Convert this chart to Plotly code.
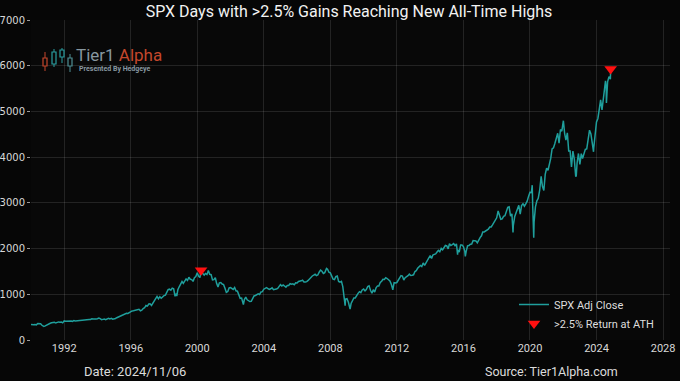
import pandas as pd
import plotly.graph_objects as go

# ---------------- data ----------------
closes_1990s = [
    329.1, 331.9, 339.9, 330.8, 361.2, 358.0, 356.2, 322.6, 306.1, 304.0, 322.2, 330.2,
    343.9, 367.1, 375.2, 375.3, 389.8, 371.2, 387.8, 395.4, 387.9, 392.5, 375.2, 417.1,
    408.8, 412.7, 403.7, 414.9, 415.4, 408.1, 424.2, 414.0, 417.8, 418.7, 431.4, 435.7,
    438.8, 443.4, 451.7, 440.2, 450.2, 450.5, 448.1, 463.6, 458.9, 467.8, 461.8, 466.5,
    481.6, 467.1, 445.8, 451.0, 456.5, 444.3, 458.3, 475.5, 462.7, 472.4, 454.0, 459.3,
    470.4, 487.4, 500.7, 514.7, 533.4, 544.8, 562.1, 561.9, 584.4, 581.5, 605.4, 615.9,
    636.0, 640.4, 645.5, 654.2, 669.1, 670.6, 639.9, 652.0, 687.3, 705.3, 757.0, 740.7,
    786.2, 790.8, 757.1, 801.3, 848.3, 885.1, 954.3, 899.5, 947.3, 914.6, 955.4, 970.4,
    980.3, 1049.3, 1101.8, 1111.8, 1090.8, 1133.8, 1120.7, 957.3, 1017.0, 1098.7, 1163.6, 1229.2,
    1279.6, 1238.3, 1286.4, 1335.2, 1301.8, 1372.7, 1328.7, 1320.4, 1282.7, 1362.9, 1388.9, 1469.3,
]
closes_2000s = [
    1394.5, 1366.4, 1498.6, 1452.4, 1420.6, 1454.6, 1430.8, 1517.7, 1436.5, 1429.4, 1315.2, 1320.3,
    1366.0, 1239.9, 1160.3, 1249.5, 1255.8, 1224.4, 1211.2, 1133.6, 1040.9, 1059.8, 1139.5, 1148.1,
    1130.2, 1106.7, 1147.4, 1076.9, 1067.1, 989.8, 911.6, 916.1, 815.3, 885.8, 936.3, 879.8,
    855.7, 841.2, 848.2, 916.9, 963.6, 974.5, 990.3, 1008.0, 996.0, 1050.7, 1058.2, 1111.9,
    1131.1, 1144.9, 1126.2, 1107.3, 1120.7, 1140.8, 1101.7, 1104.2, 1114.6, 1130.2, 1173.8, 1211.9,
    1181.3, 1203.6, 1180.6, 1156.9, 1191.5, 1191.3, 1234.2, 1220.3, 1228.8, 1207.0, 1249.5, 1248.3,
    1280.1, 1280.7, 1294.9, 1310.6, 1270.1, 1270.2, 1276.7, 1303.8, 1335.9, 1377.9, 1400.6, 1418.3,
    1438.2, 1406.8, 1420.9, 1482.4, 1530.6, 1503.4, 1455.3, 1474.0, 1526.8, 1549.4, 1481.1, 1468.4,
    1378.6, 1330.6, 1322.7, 1385.6, 1400.4, 1280.0, 1267.4, 1282.8, 1166.4, 968.8, 896.2, 903.3,
    825.9, 735.1, 797.9, 872.8, 919.1, 919.3, 987.5, 1020.6, 1057.1, 1036.2, 1095.6, 1115.1,
]
closes_2010s = [
    1073.9, 1104.5, 1169.4, 1186.7, 1089.4, 1030.7, 1101.6, 1049.3, 1141.2, 1183.3, 1180.6, 1257.6,
    1286.1, 1327.2, 1325.8, 1363.6, 1345.2, 1320.6, 1292.3, 1218.9, 1131.4, 1253.3, 1247.0, 1257.6,
    1312.4, 1365.7, 1408.5, 1397.9, 1310.3, 1362.2, 1379.3, 1406.6, 1440.7, 1412.2, 1416.2, 1426.2,
    1498.1, 1514.7, 1569.2, 1597.6, 1630.7, 1606.3, 1685.7, 1633.0, 1681.6, 1756.5, 1805.8, 1848.4,
    1782.6, 1859.5, 1872.3, 1883.9, 1923.6, 1960.2, 1930.7, 2003.4, 1972.3, 2018.1, 2067.6, 2058.9,
    1995.0, 2104.5, 2067.9, 2085.5, 2107.4, 2063.1, 2103.8, 1972.2, 1920.0, 2079.4, 2080.4, 2043.9,
    1940.2, 1932.2, 2059.7, 2065.3, 2096.9, 2098.9, 2173.6, 2171.0, 2168.3, 2126.2, 2199.0, 2238.8,
    2278.9, 2363.6, 2362.7, 2384.2, 2411.8, 2423.4, 2470.3, 2471.7, 2519.4, 2575.3, 2647.6, 2673.6,
    2823.8, 2713.8, 2640.9, 2648.1, 2705.3, 2718.4, 2816.3, 2901.5, 2914.0, 2711.7, 2760.2, 2506.9,
    2704.1, 2784.5, 2834.4, 2945.8, 2752.1, 2941.8, 2980.4, 2926.5, 2976.7, 3037.6, 3141.0, 3230.8,
]
closes_2020s = [
    3225.5, 2954.2, 2584.6, 2912.4, 3044.3, 3100.3, 3271.1, 3500.3, 3363.0, 3270.0, 3621.6, 3756.1,
    3714.2, 3811.2, 3972.9, 4181.2, 4204.1, 4297.5, 4395.3, 4522.7, 4307.5, 4605.4, 4567.0, 4766.2,
    4515.6, 4373.9, 4530.4, 4131.9, 4132.2, 3785.4, 4130.3, 3955.0, 3585.6, 3872.0, 4080.1, 3839.5,
    4076.6, 3970.2, 4109.3, 4169.5, 4179.8, 4450.4, 4589.0, 4507.7, 4288.1, 4193.8, 4567.8, 4769.8,
    4845.7, 5096.3, 5254.4, 5035.7, 5277.5, 5460.5, 5522.3, 5648.4, 5762.5, 5705.5,
]
last_date = "2024-11-06"
last_close = 5929.0

# intramonth highs / lows visible in the picture
extreme_dates = ["1990-10-11", "1998-10-08", "2000-03-24", "2002-10-09", "2007-10-09",
                 "2008-11-20", "2009-03-09", "2010-07-02", "2011-10-03", "2015-08-25",
                 "2016-02-11", "2018-12-24", "2020-02-19", "2020-03-23", "2020-09-02",
                 "2022-01-03", "2022-10-12", "2023-10-27", "2024-07-16", "2024-08-05"]
extreme_values = [295.5, 959.4, 1527.5, 776.8, 1565.2,
                  752.4, 676.5, 1022.6, 1099.2, 1867.6,
                  1829.1, 2351.1, 3386.2, 2237.4, 3580.8,
                  4796.6, 3577.0, 4117.4, 5667.2, 5186.3]

ath_dates = ["2000-03-24", "2024-11-06"]
ath_values = [1527.5, 5929.0]

x_ticks = ["1992", "1996", "2000", "2004", "2008", "2012", "2016", "2020", "2024", "2028"]
y_ticks = [0, 1000, 2000, 3000, 4000, 5000, 6000, 7000]

# ---------------- build series ----------------
monthly = closes_1990s + closes_2000s + closes_2010s + closes_2020s
mdates = pd.date_range("1990-01-31", periods=len(monthly), freq="ME")
s = pd.Series(monthly, index=mdates)
s = pd.concat([s, pd.Series([last_close], index=pd.to_datetime([last_date])),
               pd.Series(extreme_values, index=pd.to_datetime(extreme_dates))])
s = s[~s.index.duplicated()].sort_index()
start = pd.Series([339.0], index=pd.to_datetime(["1990-01-02"]))
s = pd.concat([start, s]).sort_index()

# ---------------- layout helpers ----------------
W, H = 680, 381
ML, MR, MT, MB = 31, 10, 20, 41
PW, PH = W - ML - MR, H - MT - MB


def px(x):
    return (x - ML) / PW


def py(y):
    return (H - MB - y) / PH


COND = "Roboto, sans-serif"
TEAL = "#1f9f9c"

fig = go.Figure()
fig.add_trace(go.Scatter(x=s.index, y=s.values, mode="lines", name="SPX Adj Close",
                         line=dict(color=TEAL, width=1.5)))
fig.add_trace(go.Scatter(x=pd.to_datetime(ath_dates), y=ath_values, mode="markers",
                         name=">2.5% Return at ATH",
                         marker=dict(symbol="triangle-down", color="#ff1010", size=11,
                                     line=dict(width=0))))

fig.update_layout(
    width=W, height=H,
    margin=dict(l=ML, r=MR, t=MT, b=MB, autoexpand=False),
    paper_bgcolor="#060606", plot_bgcolor="#080808",
    title=dict(text="SPX Days with >2.5% Gains Reaching New All-Time Highs",
               x=349 / W, xanchor="center", y=1 - 11 / H, yanchor="middle",
               font=dict(family=COND, size=16, color="#f2f2f2")),
    showlegend=True,
    legend=dict(x=px(514), y=py(338), xanchor="left", yanchor="bottom",
                bgcolor="rgba(0,0,0,0)", font=dict(family=COND, size=11, color="#dddddd"),
                tracegroupgap=2, itemwidth=30),
    xaxis=dict(type="date", range=["1990-01-02", "2028-06-01"], automargin=False,
               tickvals=pd.to_datetime([t + "-01-01" for t in x_ticks]), ticktext=x_ticks,
               showgrid=True, gridcolor="rgba(255,255,255,0.11)", gridwidth=1,
               zeroline=False, showline=False, ticks="",
               tickfont=dict(family=COND, size=11, color="#d8d8d8")),
    yaxis=dict(range=[0, 7000], tickvals=y_ticks, automargin=False,
               showgrid=True, gridcolor="rgba(255,255,255,0.11)", gridwidth=1,
               zeroline=False, showline=False, ticks="outside", ticklen=3,
               tickcolor="#9a9a9a", tickfont=dict(family="DejaVu Sans", size=10, color="#d8d8d8")),
)

# footer texts
fig.add_annotation(text="Date: 2024/11/06", xref="paper", yref="paper", x=px(135), y=py(371),
                   xanchor="center", yanchor="middle",
                   showarrow=False, font=dict(family=COND, size=13, color="#dcdcdc"))
fig.add_annotation(text="Source: Tier1Alpha.com", xref="paper", yref="paper", x=px(551), y=py(371),
                   xanchor="center", yanchor="middle",
                   showarrow=False, font=dict(family=COND, size=12.5, color="#dcdcdc"))

# logo
fig.add_annotation(text="<span style='color:#8797a0'>Tier1</span> <span style='color:#c4472c'>Alpha</span>",
                   xref="paper", yref="paper", x=px(74), y=py(55), xanchor="left", yanchor="middle",
                   showarrow=False, font=dict(family=COND, size=17))
fig.add_annotation(text="<b>Presented By Hedgeye</b>", xref="paper", yref="paper", x=px(77), y=py(69),
                   xanchor="left", yanchor="middle", showarrow=False,
                   font=dict(family=COND, size=7, color="#8797a0"))
candles = [  # (x, wick_top, wick_bottom, body_top, body_bottom, color)
    (45, 52, 71, 58, 66, "#c4472c"),
    (54, 49, 67, 52, 64, "#2a9ea0"),
    (62, 48, 63, 50, 57, "#2a9ea0"),
    (70, 54, 72, 58, 66, "#4f8f95"),
]
for cx, wt, wb, bt, bb, col in candles:
    fig.add_shape(type="line", xref="paper", yref="paper", x0=px(cx), x1=px(cx), y0=py(wt), y1=py(wb),
                  line=dict(color=col, width=1))
    fig.add_shape(type="rect", xref="paper", yref="paper", x0=px(cx - 2), x1=px(cx + 2), y0=py(bt), y1=py(bb),
                  line=dict(color=col, width=1.2), fillcolor="#080808")

fig.write_html("out.html", config={"displayModeBar": False},
               post_script="document.body.style.margin='0px';document.body.style.background='#060606';")
